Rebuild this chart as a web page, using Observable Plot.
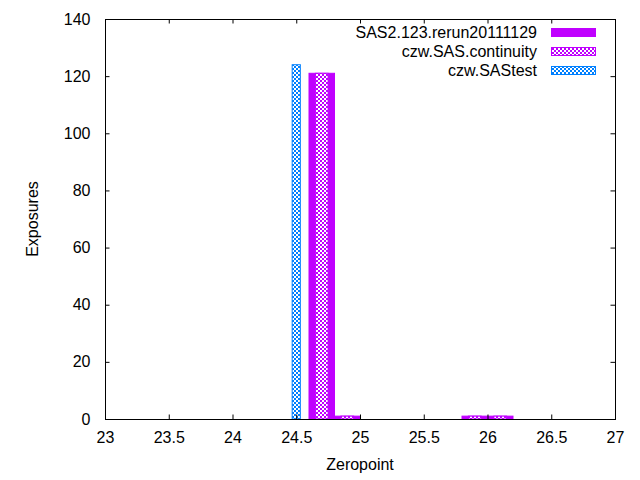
<!DOCTYPE html>
<html>
<head>
<meta charset="utf-8">
<script src="https://cdn.jsdelivr.net/npm/d3@7"></script>
<script src="https://cdn.jsdelivr.net/npm/@observablehq/plot@0.6"></script>
<style>
  html, body { margin: 0; padding: 0; background: white; }
</style>
</head>
<body>
<div id="chart"></div>
<script>
// ---- data ----
const seriesNames = ["SAS2.123.rerun20111129", "czw.SAS.continuity", "czw.SAStest"];
const binCenters = [24.7, 24.9, 25.9, 26.1];
const sasRerun = [121, 1, 1, 1];
const sasContinuity = [121, 1, 1, 1];
const sasTestCenters = [24.5];
const sasTest = [124];
const xTicks = [23, 23.5, 24, 24.5, 25, 25.5, 26, 26.5, 27];
const yTicks = [0, 20, 40, 60, 80, 100, 120, 140];

const purple = "#c000ff";
const blue = "#0080ff";

const rowsRerun = binCenters.map((c, i) => ({c, v: sasRerun[i]}));
const rowsCont = binCenters.map((c, i) => ({c, v: sasContinuity[i]}));
const rowsTest = sasTestCenters.map((c, i) => ({c, v: sasTest[i]}));

const W = 640, H = 480;
const mL = 105, mR = 25, mT = 19, mB = 61;
const tl = 4.5;
const font = "'Liberation Sans', Arial, sans-serif";
const fs = 16;

const plot = Plot.plot({
  width: W, height: H,
  marginLeft: mL, marginRight: mR, marginTop: mT, marginBottom: mB,
  style: {fontFamily: font, fontSize: fs + "px", background: "white", color: "black", overflow: "visible"},
  x: {domain: [23, 27]},
  y: {domain: [0, 140]},
  marks: [
    Plot.rectY(rowsRerun, {x1: d => d.c - 0.1, x2: d => d.c + 0.1, y1: 0, y2: "v", fill: purple, stroke: purple, strokeWidth: 1}),
    Plot.rectY(rowsCont, {x1: d => d.c - 0.05, x2: d => d.c + 0.05, y1: 0, y2: "v", fill: "url(#patPurple)", stroke: purple, strokeWidth: 1}),
    Plot.rectY(rowsTest, {x1: d => d.c - 0.032, x2: d => d.c + 0.032, y1: 0, y2: "v", fill: "url(#patBlue)", stroke: blue, strokeWidth: 1}),
    // inward ticks on all four sides
    Plot.ruleX(xTicks, {x: d => d, insetTop: H - mT - mB - tl, stroke: "black"}),
    Plot.ruleX(xTicks, {x: d => d, insetBottom: H - mT - mB - tl, stroke: "black"}),
    Plot.ruleY(yTicks, {y: d => d, insetRight: W - mL - mR - tl, stroke: "black"}),
    Plot.ruleY(yTicks, {y: d => d, insetLeft: W - mL - mR - tl, stroke: "black"}),
    Plot.axisX({ticks: xTicks, tickSize: 0, tickPadding: 12, tickFormat: d => String(d), label: null, fontSize: fs, fill: "black"}),
    Plot.axisY({ticks: yTicks, tickSize: 0, tickPadding: 15, tickFormat: d => String(d), label: null, fontSize: fs, fill: "black"}),
    Plot.frame({stroke: "black", strokeWidth: 1})
  ]
});

const svg = d3.select(plot);
// patterns
const defs = svg.insert("defs", ":first-child");
function makePattern(id, color) {
  const p = defs.append("pattern").attr("id", id).attr("patternUnits", "userSpaceOnUse")
    .attr("width", 4).attr("height", 4);
  p.append("rect").attr("width", 4).attr("height", 4).attr("fill", "white");
  p.append("rect").attr("x", 0).attr("y", 0).attr("width", 2).attr("height", 2).attr("fill", color);
  p.append("rect").attr("x", 2).attr("y", 2).attr("width", 2).attr("height", 2).attr("fill", color);
}
makePattern("patPurple", purple);
makePattern("patBlue", blue);

// axis titles
svg.append("text").attr("x", mL + (W - mL - mR) / 2).attr("y", 470)
  .attr("text-anchor", "middle").attr("font-family", font).attr("font-size", fs).attr("fill", "black")
  .text("Zeropoint");
svg.append("text").attr("transform", `translate(38,${mT + (H - mT - mB) / 2}) rotate(-90)`)
  .attr("text-anchor", "middle").attr("font-family", font).attr("font-size", fs).attr("fill", "black")
  .text("Exposures");

// legend
const legendFills = [purple, "url(#patPurple)", "url(#patBlue)"];
const legendStrokes = [purple, purple, blue];
const rowY = [32.5, 51.5, 70.5];
seriesNames.forEach((name, i) => {
  svg.append("text").attr("x", 537).attr("y", rowY[i]).attr("dy", "0.35em")
    .attr("text-anchor", "end").attr("font-family", font).attr("font-size", fs).attr("fill", "black")
    .text(name);
  svg.append("rect").attr("x", 551.5).attr("y", rowY[i] - 4).attr("width", 44).attr("height", 8)
    .attr("fill", legendFills[i]).attr("stroke", legendStrokes[i]).attr("stroke-width", 1);
});

document.getElementById("chart").appendChild(plot);
</script>
</body>
</html>
